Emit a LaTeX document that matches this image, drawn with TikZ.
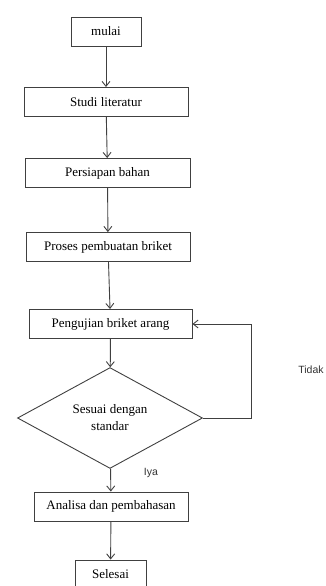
\documentclass[tikz,border=0pt]{standalone}
\usepackage{fontspec}
\setmainfont{Liberation Serif}
\setsansfont{Liberation Sans}
\usetikzlibrary{shapes.geometric,arrows.meta,positioning}

\begin{document}
\begin{tikzpicture}[x=1pt,y=-1pt,
    langkah/.style={draw=black!75,line width=0.9pt,minimum height=29pt,
      font=\fontsize{13}{17}\selectfont,inner sep=2pt},
    cek/.style={diamond,draw=black!75,line width=0.9pt,minimum width=185pt,
      minimum height=76pt,inner sep=0pt,align=center,
      font=\fontsize{13}{17}\selectfont},
    ket/.style={font=\sffamily\fontsize{10.5}{12}\selectfont,text=black!80},
    panah/.style={draw=black!75,line width=0.9pt,
      -{Straight Barb[length=5pt,width=8pt]}}]
    \useasboundingbox (0,0) rectangle (326,586);
    \node[langkah,minimum width=70pt]  (mulai)    at (106,31.5) {mulai};
    \node[langkah,minimum width=164pt] (studi)    at (106,102)  {Studi literatur};
    \node[langkah,minimum width=165pt] (bahan)    at (107.5,173) {Persiapan bahan};
    \node[langkah,minimum width=164pt] (proses)   at (108,247)  {Proses pembuatan briket};
    \node[langkah,minimum width=163pt] (uji)      at (110.5,324) {Pengujian briket arang};
    \node[cek]                         (standar)  at (110,418)  {Sesuai dengan\\standar};
    \node[langkah,minimum width=154pt] (analisa)  at (111,506.5) {Analisa dan pembahasan};
    \node[langkah,minimum width=71pt]  (selesai)  at (110.5,574.5) {Selesai};
    \coordinate (balik) at (251,418);
    \node[ket] (tidak) at (311,369.5) {Tidak};
    \node[ket] (iya)   at (151,473)   {Iya};
    \draw[panah] (mulai) -- (studi);
    \draw[panah] (studi) -- (bahan);
    \draw[panah] (bahan) -- (proses);
    \draw[panah] (proses) -- (uji);
    \draw[panah] (uji) -- (standar);
    \draw[panah] (standar) -- (analisa);
    \draw[panah] (analisa) -- (selesai);
    \draw[panah] (standar.east) -- (balik) |- (uji.east);
  \end{tikzpicture}
\end{document}
